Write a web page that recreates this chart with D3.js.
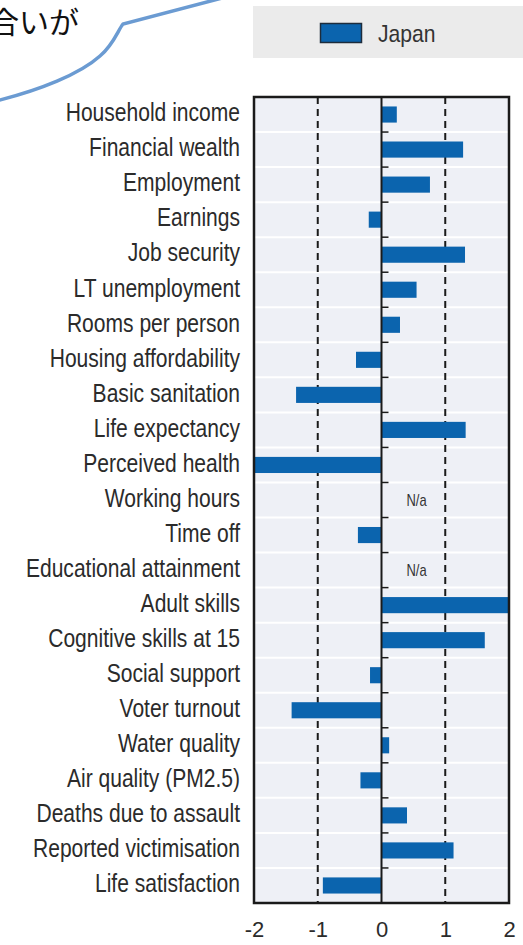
<!DOCTYPE html>
<html>
<head>
<meta charset="utf-8">
<script src="https://cdn.jsdelivr.net/npm/d3@7"></script>
<style>
  body { margin: 0; background: #fff; }
  svg { display: block; }
</style>
</head>
<body>
<div id="chart"></div>
<script>
// data
const categories = [
  "Household income", "Financial wealth", "Employment", "Earnings", "Job security",
  "LT unemployment", "Rooms per person", "Housing affordability", "Basic sanitation",
  "Life expectancy", "Perceived health", "Working hours", "Time off",
  "Educational attainment", "Adult skills", "Cognitive skills at 15", "Social support",
  "Voter turnout", "Water quality", "Air quality (PM2.5)", "Deaths due to assault",
  "Reported victimisation", "Life satisfaction"
];
// null = N/a
const japan = [0.24, 1.28, 0.76, -0.2, 1.31, 0.55, 0.29, -0.4, -1.34, 1.32, -2.0, null, -0.37,
  null, 2.0, 1.62, -0.18, -1.41, 0.12, -0.33, 0.4, 1.13, -0.92];
const xTicks = [-2, -1, 0, 1, 2];
const seriesName = "Japan";
const bubbleText = "合いが";

const width = 523, height = 945;
const margin = {left: 254, right: 14, top: 97, bottom: 42};
const font = "'Liberation Sans', Arial, sans-serif";
const squeeze = 0.81; // the original uses a narrow face; fake it
const barColor = "#0b64ae";

const svg = d3.select("#chart").append("svg")
    .attr("width", width)
    .attr("height", height);

// speech bubble bit at top left
svg.append("path")
    .attr("d", "M -4 101 C 40 90, 80 74, 100 56 C 114 44, 118 30, 123 24 L 226 -3")
    .attr("fill", "none")
    .attr("stroke", "#6b9bd2")
    .attr("stroke-width", 3.5);
svg.append("text")
    .attr("x", 79).attr("y", 33)
    .attr("text-anchor", "end")
    .style("font", "30px 'Noto Sans CJK JP', sans-serif")
    .attr("fill", "#111")
    .text(bubbleText);

// legend
const legend = svg.append("g");
legend.append("rect")
    .attr("x", 253).attr("y", 6).attr("width", 275).attr("height", 52)
    .attr("fill", "#ebebeb");
legend.append("rect")
    .attr("x", 320.5).attr("y", 23.5).attr("width", 41).attr("height", 19)
    .attr("fill", barColor).attr("stroke", "#1d2c3c").attr("stroke-width", 1.5);
legend.append("text")
    .attr("x", 378 / 0.88).attr("y", 42)
    .attr("transform", "scale(0.88,1)")
    .style("font", "24px " + font)
    .attr("fill", "#333")
    .text(seriesName);

// scales
const x = d3.scaleLinear()
    .domain([-2, 2])
    .range([margin.left, width - margin.right]);
const y = d3.scaleBand()
    .domain(categories)
    .range([margin.top, height - margin.bottom])
    .paddingInner(0.54)
    .paddingOuter(0.27);
const step = y.step();

const plot = svg.append("g");

// background + white row separators
plot.append("rect")
    .attr("x", x(-2)).attr("y", margin.top)
    .attr("width", x(2) - x(-2)).attr("height", height - margin.bottom - margin.top)
    .attr("fill", "#eef0f6");
plot.append("g")
    .selectAll("line")
    .data(categories.slice(1))
    .join("line")
    .attr("x1", x(-2)).attr("x2", x(2))
    .attr("y1", (d, i) => margin.top + (i + 1) * step)
    .attr("y2", (d, i) => margin.top + (i + 1) * step)
    .attr("stroke", "#fff").attr("stroke-width", 2);

// dashed grid at -1 and 1
plot.append("g")
    .selectAll("line")
    .data([-1, 1])
    .join("line")
    .attr("x1", d => x(d)).attr("x2", d => x(d))
    .attr("y1", margin.top).attr("y2", height - margin.bottom)
    .attr("stroke", "#1a1a1a").attr("stroke-width", 2)
    .attr("stroke-dasharray", "7,5");

// bars
const rows = categories.map((c, i) => ({cat: c, v: japan[i]}));
plot.append("g")
    .selectAll("rect")
    .data(rows.filter(d => d.v !== null))
    .join("rect")
    .attr("x", d => x(Math.min(0, d.v)))
    .attr("y", d => y(d.cat))
    .attr("width", d => Math.abs(x(d.v) - x(0)))
    .attr("height", y.bandwidth())
    .attr("fill", barColor);

// N/a labels
plot.append("g")
    .selectAll("text")
    .data(rows.filter(d => d.v === null))
    .join("text")
    .attr("x", x(0.55) / squeeze)
    .attr("y", d => y(d.cat) + y.bandwidth() / 2)
    .attr("dy", "0.35em")
    .attr("transform", `scale(${squeeze},1)`)
    .attr("text-anchor", "middle")
    .style("font", "16px " + font)
    .attr("fill", "#333")
    .text("N/a");

// zero axis with little ticks at row boundaries
plot.append("line")
    .attr("x1", x(0)).attr("x2", x(0))
    .attr("y1", margin.top).attr("y2", height - margin.bottom)
    .attr("stroke", "#1a1a1a").attr("stroke-width", 2);
plot.append("g")
    .selectAll("line")
    .data(categories.slice(1))
    .join("line")
    .attr("x1", x(0)).attr("x2", x(0) + 7)
    .attr("y1", (d, i) => margin.top + (i + 1) * step)
    .attr("y2", (d, i) => margin.top + (i + 1) * step)
    .attr("stroke", "#1a1a1a").attr("stroke-width", 1.5);

// frame
plot.append("rect")
    .attr("x", x(-2)).attr("y", margin.top)
    .attr("width", x(2) - x(-2)).attr("height", height - margin.bottom - margin.top)
    .attr("fill", "none")
    .attr("stroke", "#1a1a1a").attr("stroke-width", 2.5);

// category labels
svg.append("g")
    .attr("transform", `translate(${margin.left},0)`)
    .call(d3.axisLeft(y).tickSize(0))
    .call(g => g.select(".domain").remove())
    .call(g => g.selectAll("text")
        .attr("x", -14 / squeeze)
        .attr("dy", "0.26em")
        .attr("transform", `scale(${squeeze},1)`)
        .style("font", "26px " + font)
        .attr("fill", "#2b2b2b"));

// x axis labels
svg.append("g")
    .attr("transform", `translate(0,${height - margin.bottom})`)
    .call(d3.axisBottom(x).tickValues(xTicks).tickSize(0).tickPadding(18).tickFormat(d => String(d)))
    .call(g => g.select(".domain").remove())
    .call(g => g.selectAll("text")
        .style("font", "22px " + font)
        .attr("fill", "#2b2b2b"));
</script>
</body>
</html>
